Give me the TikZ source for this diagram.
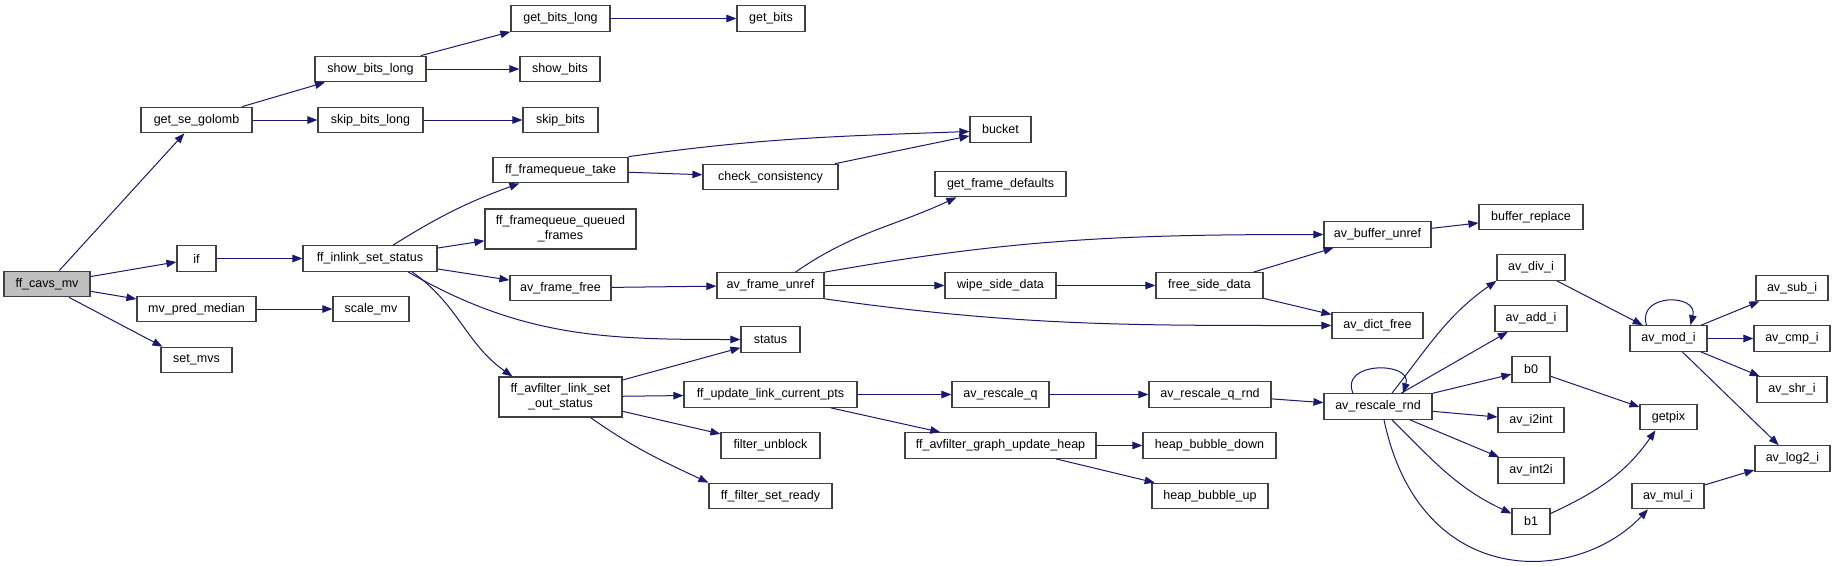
\documentclass[tikz,border=0pt]{standalone}
\usepackage{fontspec}
\setmainfont{Liberation Sans}
\usepackage{xcolor}
\usepackage{tikz}
\usetikzlibrary{
  arrows.meta,
  positioning,
  calc
}
\definecolor{edgeblue}{HTML}{191970}
\definecolor{boxline}{HTML}{404040}
\definecolor{rootfill}{HTML}{BFBFBF}
\tikzset{
  fnbox/.style={draw=boxline, line width=1.2pt, fill=white, minimum height=25.5pt,
    inner sep=0pt, font=\fontsize{12.5}{15}\selectfont, align=center},
  rootbox/.style={fnbox, fill=rootfill},
  call/.style={draw=edgeblue, line width=1pt, -{Triangle[length=10pt,width=7.5pt]}}
}

\begin{document}
\begin{tikzpicture}[x=1pt, y=-1pt]
  \fill[white] (0,0) rectangle (1836,565);
  \useasboundingbox (0,0) rectangle (1836,565);
  % function boxes, one column per call depth
  \node[rootbox, minimum width=86pt]  (cavs)     at (47,284)     {ff\_cavs\_mv};
  \node[fnbox, minimum width=111pt]   (golomb)   at (196.5,120)  {get\_se\_golomb};
  \node[fnbox, minimum width=39pt]    (ifn)      at (196.5,258.5) {if};
  \node[fnbox, minimum width=119pt]   (median)   at (196.5,309)  {mv\_pred\_median};
  \node[fnbox, minimum width=71pt]    (setmvs)   at (196.5,360)  {set\_mvs};
  \node[fnbox, minimum width=111pt]   (showlong) at (370.5,69)   {show\_bits\_long};
  \node[fnbox, minimum width=105pt]   (skiplong) at (370.5,120)  {skip\_bits\_long};
  \node[fnbox, minimum width=134pt]   (inlink)   at (370,258.5)  {ff\_inlink\_set\_status};
  \node[fnbox, minimum width=76pt]    (scalemv)  at (371,309)    {scale\_mv};
  \node[fnbox, minimum width=99pt]    (getlong)  at (560.5,18.5) {get\_bits\_long};
  \node[fnbox, minimum width=80pt]    (showbits) at (560,69)     {show\_bits};
  \node[fnbox, minimum width=75pt]    (skipbits) at (560.5,120)  {skip\_bits};
  \node[fnbox, minimum width=135pt]   (fqtake)   at (560.5,170)  {ff\_framequeue\_take};
  \node[fnbox, minimum width=151pt, minimum height=40pt] (fqqueued) at (560.5,229)
    {ff\_framequeue\_queued\\\_frames};
  \node[fnbox, minimum width=101pt]   (framefree) at (560.5,288) {av\_frame\_free};
  \node[fnbox, minimum width=123pt, minimum height=40pt] (outstatus) at (560.5,397)
    {ff\_avfilter\_link\_set\\\_out\_status};
  \node[fnbox, minimum width=68pt]    (getbits)  at (771,18.5)   {get\_bits};
  \node[fnbox, minimum width=135pt]   (checkcons) at (770.5,177) {check\_consistency};
  \node[fnbox, minimum width=107pt]   (unref)    at (770.5,285.5) {av\_frame\_unref};
  \node[fnbox, minimum width=59pt]    (status)   at (770.5,339.5) {status};
  \node[fnbox, minimum width=173pt]   (updpts)   at (770.5,394.5) {ff\_update\_link\_current\_pts};
  \node[fnbox, minimum width=99pt]    (unblock)  at (770.5,445.5) {filter\_unblock};
  \node[fnbox, minimum width=123pt]   (setready) at (770.5,496)  {ff\_filter\_set\_ready};
  \node[fnbox, minimum width=61pt]    (bucket)   at (1000.5,129.5) {bucket};
  \node[fnbox, minimum width=131pt]   (defaults) at (1000.5,184) {get\_frame\_defaults};
  \node[fnbox, minimum width=111pt]   (wipe)     at (1000.5,285.5) {wipe\_side\_data};
  \node[fnbox, minimum width=97pt]    (rescaleq) at (1000.5,394.5) {av\_rescale\_q};
  \node[fnbox, minimum width=191pt]   (updheap)  at (1000.5,445.5) {ff\_avfilter\_graph\_update\_heap};
  \node[fnbox, minimum width=107pt]   (freeside) at (1209.5,285.5) {free\_side\_data};
  \node[fnbox, minimum width=122pt]   (rescaleqrnd) at (1210,394.5) {av\_rescale\_q\_rnd};
  \node[fnbox, minimum width=133pt]   (bubbledown) at (1209.5,445.5) {heap\_bubble\_down};
  \node[fnbox, minimum width=116pt]   (bubbleup) at (1210,496)   {heap\_bubble\_up};
  \node[fnbox, minimum width=107pt]   (bufunref) at (1377.5,234.5) {av\_buffer\_unref};
  \node[fnbox, minimum width=91pt]    (dictfree) at (1377.5,325.5) {av\_dict\_free};
  \node[fnbox, minimum width=108pt]   (rescalernd) at (1378,406.5) {av\_rescale\_rnd};
  \node[fnbox, minimum width=104pt]   (bufreplace) at (1531,217) {buffer\_replace};
  \node[fnbox, minimum width=68pt]    (divi)     at (1531,267.5) {av\_div\_i};
  \node[fnbox, minimum width=72pt]    (addi)     at (1531,318.5) {av\_add\_i};
  \node[fnbox, minimum width=38pt]    (bzero)    at (1531,369.5) {b0};
  \node[fnbox, minimum width=66pt]    (itoint)   at (1531,420)   {av\_i2int};
  \node[fnbox, minimum width=66pt]    (inttoi)   at (1531,470.5) {av\_int2i};
  \node[fnbox, minimum width=38pt]    (bone)     at (1531,521.5) {b1};
  \node[fnbox, minimum width=77pt]    (modi)     at (1668.5,338.5) {av\_mod\_i};
  \node[fnbox, minimum width=57pt]    (getpix)   at (1668.5,417) {getpix};
  \node[fnbox, minimum width=72pt]    (muli)     at (1668,496)   {av\_mul\_i};
  \node[fnbox, minimum width=72pt]    (subi)     at (1792,288)   {av\_sub\_i};
  \node[fnbox, minimum width=76pt]    (cmpi)     at (1792,338.5) {av\_cmp\_i};
  \node[fnbox, minimum width=70pt]    (shri)     at (1792,389.5) {av\_shr\_i};
  \node[fnbox, minimum width=75pt]    (logi)     at (1792.5,458.5) {av\_log2\_i};
  % straight calls
  \foreach \a/\b in {cavs/golomb, cavs/ifn, cavs/median, golomb/showlong, golomb/skiplong,
      showlong/getlong, showlong/showbits, getlong/getbits, skiplong/skipbits,
      ifn/inlink, inlink/fqqueued, inlink/framefree, median/scalemv,
      fqtake/checkcons, checkcons/bucket, framefree/unref, unref/wipe, wipe/freeside,
      freeside/bufunref, freeside/dictfree, bufunref/bufreplace,
      outstatus/status, outstatus/updpts, outstatus/unblock,
      updpts/rescaleq, updpts/updheap, rescaleq/rescaleqrnd, rescaleqrnd/rescalernd,
      updheap/bubbledown, updheap/bubbleup,
      rescalernd/addi, rescalernd/bzero, rescalernd/itoint, rescalernd/inttoi,
      divi/modi, modi/subi, modi/cmpi, modi/shri, modi/logi, bzero/getpix, muli/logi}
  {
    \draw[call] (\a) -- (\b);
  }
  % curved calls
  \draw[call] ([xshift=22pt]cavs.south) -- ([xshift=-34pt]setmvs.north);
  \draw[call] ([xshift=23pt]inlink.north) to[out=32,in=200] ([xshift=27pt]fqtake.south west);
  \draw[call] ([xshift=38pt]inlink.south) to[out=-30,in=180] (status.west);
  \draw[call] ([xshift=42pt]inlink.south) to[out=-35,in=145] ([xshift=14pt]outstatus.north west);
  \draw[call] (fqtake.north east) to[out=8,in=182] ([yshift=-2pt]bucket.west);
  \draw[call] ([xshift=25pt]unref.north) to[out=35,in=205] ([xshift=22pt]defaults.south west);
  \draw[call] (unref.north east) to[out=10,in=180] (bufunref.west);
  \draw[call] (unref.south east) to[out=-8,in=180] (dictfree.west);
  \draw[call] ([xshift=30pt]outstatus.south) to[out=-35,in=155] (setready.north west);
  \draw[call] ([xshift=-25pt]rescalernd.north) .. controls +(-14,-32) and +(10,-32) .. ([xshift=25pt]rescalernd.north);
  \draw[call] ([xshift=14pt]rescalernd.north) to[out=52,in=215] (divi.south west);
  \draw[call] ([xshift=14pt]rescalernd.south) to[out=-45,in=155] ([yshift=8pt]bone.west);
  \draw[call] ([xshift=6pt]rescalernd.south) .. controls +(36,171) and +(-72,76) .. ([xshift=-20pt]muli.south);
  \draw[call] ([yshift=8pt]bone.east) to[out=25,in=235] ([xshift=-13pt]getpix.south);
  \draw[call] ([xshift=-22pt]modi.north) .. controls +(-10,-32) and +(8,-32) .. ([xshift=22pt]modi.north);
\end{tikzpicture}
\end{document}
